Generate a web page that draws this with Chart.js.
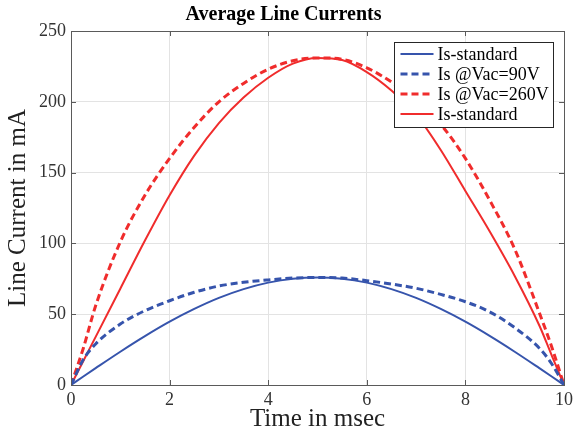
<!DOCTYPE html>
<html><head><meta charset="utf-8">
<script src="https://cdn.jsdelivr.net/npm/chart.js@4/dist/chart.umd.min.js"></script>
<style>html,body{margin:0;padding:0;background:#fff;} #wrap{width:577px;height:445px;position:relative;}</style>
</head><body><div id="wrap"><canvas id="c" width="577" height="445"></canvas></div>
<script>
// ---- data ----
const timeMs        = [0, 0.25, 0.5, 1, 1.5, 2, 2.5, 3, 3.5, 4, 4.5, 5, 5.5, 6, 6.5, 7, 7.5, 8, 8.5, 9, 9.5, 9.75, 10];
const isStandardLow = [0, 6, 11.9, 23.5, 34.5, 44.7, 53.7, 61.5, 67.7, 72.3, 75.1, 76, 75.1, 72.3, 67.7, 61.5, 53.7, 44.7, 34.5, 23.5, 11.9, 6, 0];
const isVac90       = [0, 18, 29, 43, 52.5, 59.5, 65.5, 69.9, 72.5, 74.2, 75.5, 76, 75.5, 73.7, 71.3, 68.3, 64, 58.8, 51.5, 40.5, 26, 15, 0];
const isVac260      = [0, 26, 56, 101, 134, 160, 182, 200, 213, 223, 229, 231, 230, 224, 214, 201, 184, 160, 130, 96, 51, 27, 0];
const isStandardHigh= [0, 17, 34, 68, 102, 134, 162, 185, 203, 217, 227, 231, 229.5, 221, 208, 191, 166, 137, 108, 77, 42, 21, 0];
const seriesLabels  = ['Is-standard', 'Is @Vac=90V', 'Is @Vac=260V', 'Is-standard'];
const xTicks = [0, 2, 4, 6, 8, 10];
const yTicks = [0, 50, 100, 150, 200, 250];
const chartTitle = 'Average Line Currents';
const xTitle = 'Time in msec';
const yTitle = 'Line Current in mA';

const SERIF = '"Liberation Serif", "Times New Roman", serif';
const BLUE = '#3654ac';
const RED = '#f02c2c';

function pts(ys) { return timeMs.map((t, i) => ({x: t, y: ys[i]})); }

const seriesDefs = [
  {label: seriesLabels[0], data: isStandardLow, color: BLUE, dash: [], width: 2},
  {label: seriesLabels[1], data: isVac90, color: BLUE, dash: [7, 4], width: 3},
  {label: seriesLabels[2], data: isVac260, color: RED, dash: [7, 4], width: 3},
  {label: seriesLabels[3], data: isStandardHigh, color: RED, dash: [], width: 2}
];

const framePlugin = {
  id: 'frame',
  afterDatasetsDraw(chart) {
    const {ctx, chartArea: a, scales} = chart;
    ctx.save();
    ctx.strokeStyle = '#5a5a5a';
    ctx.lineWidth = 1;
    ctx.strokeRect(Math.round(a.left) + 0.5, Math.round(a.top) + 0.5, Math.round(a.right - a.left), Math.round(a.bottom - a.top));
    ctx.beginPath();
    const L = 5;
    xTicks.forEach(v => {
      const x = Math.round(scales.x.getPixelForValue(v)) + 0.5;
      ctx.moveTo(x, a.bottom); ctx.lineTo(x, a.bottom - L);
      ctx.moveTo(x, a.top); ctx.lineTo(x, a.top + L);
    });
    yTicks.forEach(v => {
      const y = Math.round(scales.y.getPixelForValue(v)) + 0.5;
      ctx.moveTo(a.left, y); ctx.lineTo(a.left + L, y);
      ctx.moveTo(a.right, y); ctx.lineTo(a.right - L, y);
    });
    ctx.stroke();
    ctx.restore();
  }
};

const boxLegend = {
  id: 'boxLegend',
  afterDraw(chart) {
    const {ctx, chartArea: a} = chart;
    const bx = Math.round(a.right - 170) + 0.5, by = Math.round(a.top + 11) + 0.5;
    const bw = 159, bh = 85;
    ctx.save();
    ctx.fillStyle = '#fff';
    ctx.fillRect(bx, by, bw, bh);
    ctx.strokeStyle = '#262626';
    ctx.lineWidth = 1;
    ctx.strokeRect(bx, by, bw, bh);
    ctx.font = '18px ' + SERIF;
    ctx.textBaseline = 'middle';
    ctx.textAlign = 'left';
    chart.data.datasets.forEach((ds, i) => {
      const cy = by + 11.5 + i * 20;
      ctx.beginPath();
      ctx.strokeStyle = ds.borderColor;
      ctx.lineWidth = ds.borderWidth;
      ctx.setLineDash(ds.borderDash || []);
      ctx.moveTo(bx + 6, cy); ctx.lineTo(bx + 39, cy);
      ctx.stroke();
      ctx.setLineDash([]);
      ctx.fillStyle = '#000';
      ctx.fillText(ds.label, bx + 43, cy + 1);
    });
    ctx.restore();
  }
};

new Chart(document.getElementById('c'), {
  type: 'line',
  data: {
    datasets: seriesDefs.map(s => ({
      label: s.label,
      data: pts(s.data),
      borderColor: s.color,
      backgroundColor: s.color,
      borderDash: s.dash,
      borderWidth: s.width,
      pointRadius: 0,
      cubicInterpolationMode: 'monotone',
      fill: false
    }))
  },
  options: {
    responsive: false,
    animation: false,
    layout: {padding: {left: 0, right: 10, top: 0, bottom: 0}},
    plugins: {
      legend: {display: false},
      tooltip: {enabled: false},
      title: {
        display: true, text: chartTitle, color: '#000',
        font: {family: SERIF, size: 20, weight: 'bold'},
        padding: {top: 3, bottom: 4}
      }
    },
    scales: {
      x: {
        type: 'linear', min: 0, max: 10,
        afterBuildTicks: s => { s.ticks = xTicks.map(v => ({value: v})); },
        afterFit: s => { s.height = 60; },
        grid: {color: '#e3e3e3', drawTicks: false},
        border: {display: false},
        ticks: {color: '#333', font: {family: SERIF, size: 18}, padding: 4, maxRotation: 0},
        title: {display: true, text: xTitle, color: '#222', font: {family: SERIF, size: 25}, padding: {top: 0, bottom: 11}}
      },
      y: {
        type: 'linear', min: 0, max: 250,
        afterBuildTicks: s => { s.ticks = yTicks.map(v => ({value: v})); },
        afterFit: s => { s.width = 71; },
        grid: {color: '#e3e3e3', drawTicks: false},
        border: {display: false},
        ticks: {color: '#333', font: {family: SERIF, size: 18}, padding: 5},
        title: {display: true, text: yTitle, color: '#222', font: {family: SERIF, size: 25}, padding: {top: 3, bottom: 0}}
      }
    }
  },
  plugins: [framePlugin, boxLegend]
});
</script>
</body></html>
